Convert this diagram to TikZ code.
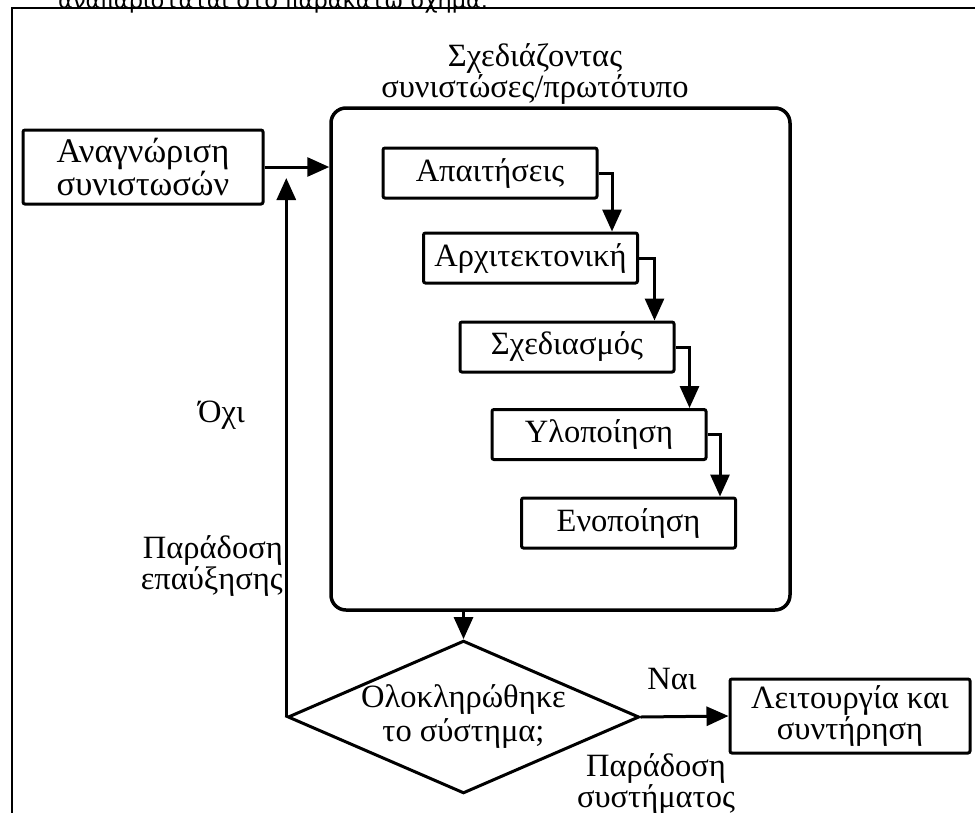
\documentclass[tikz,border=0pt]{standalone}
\usepackage{fontspec}
\setmainfont{Liberation Serif}
\newfontfamily\capfont{DejaVu Sans}
\usetikzlibrary{arrows.meta,shapes.geometric}
\begin{document}
\begin{tikzpicture}[x=1pt,y=-1pt,
  stepbox/.style={draw,line width=3pt,rounded corners=2pt,minimum width=214pt,
    minimum height=50pt,inner sep=0pt,font=\fontsize{32.5}{32}\selectfont},
  sidebox/.style={draw,line width=3pt,rounded corners=2pt,minimum width=240pt,
    minimum height=74pt,inner sep=0pt,align=center,font=\fontsize{32.5}{31}\selectfont},
  lbl/.style={inner sep=0pt,font=\fontsize{32.5}{31}\selectfont},
  flow/.style={line width=3pt,-{Triangle[length=22pt,width=19pt]}}]
\useasboundingbox (0,0) rectangle (975,812);
\clip (0,0) rectangle (975,812);

% surrounding page: caption line and frame
\node[anchor=base west,inner sep=0pt,font=\capfont\fontsize{22.5}{22}\selectfont] (cap) at (58,8)
  {αναπαρίσταται στο παρακάτω σχήμα.};
\draw[line width=1.3pt] (12,830) -- (12,8) -- (990,8);

% component design block
\node[draw,line width=3.5pt,rounded corners=15pt,minimum width=459pt,minimum height=502pt,inner sep=0pt]
  (B) at (560.5,359) {};
\node[lbl,align=center] (T) at (535,74) {Σχεδιάζοντας\\συνιστώσες/πρωτότυπο};

\node[stepbox] (s1) at (490,173) {Απαιτήσεις};
\node[stepbox] (s2) at (530.5,258) {Αρχιτεκτονική};
\node[stepbox] (s3) at (567,347) {Σχεδιασμός};
\node[stepbox] (s4) at (599,434.5) {Υλοποίηση};
\node[stepbox] (s5) at (628.5,523) {Ενοποίηση};

\draw[flow] (s1.east) -| ([xshift=-27pt]s2.north east);
\draw[flow] (s2.east) -| ([xshift=-21pt]s3.north east);
\draw[flow] (s3.east) -| ([xshift=-18pt]s4.north east);
\draw[flow] (s4.east) -| ([xshift=-17pt]s5.north east);

% outer flow
\node[sidebox,font=\fontsize{34.5}{30}\selectfont] (A) at (143,167) {Αναγνώριση\\συνιστωσών};
\node[draw,diamond,line width=3pt,inner sep=0pt,aspect=2.3,minimum width=347pt,minimum height=151pt,
  align=center,font=\fontsize{32.5}{34}\selectfont] (D) at (463.5,717) {Ολοκληρώθηκε\\το σύστημα;};
\node[sidebox] (L) at (850,716) {Λειτουργία και\\συντήρηση};

\coordinate (loopTop) at (D.west |- 0,178);

\draw[flow] (A.east) -- (A.east -| B.west);
\draw[flow] (D.west) -- (loopTop);
\draw[flow] (B.south -| D.north) -- (D.north);
\draw[flow] (D.east) -- (L.west);

% branch labels
\node[lbl,anchor=base east] (no) at (245,422) {Όχι};
\node[lbl,align=right,anchor=east] (inc) at (283,566) {Παράδοση\\επαύξησης};
\node[lbl,anchor=base] (yes) at (672,689) {Ναι};
\node[lbl,align=center] (sys) at (656,784) {Παράδοση\\συστήματος};
\end{tikzpicture}
\end{document}
